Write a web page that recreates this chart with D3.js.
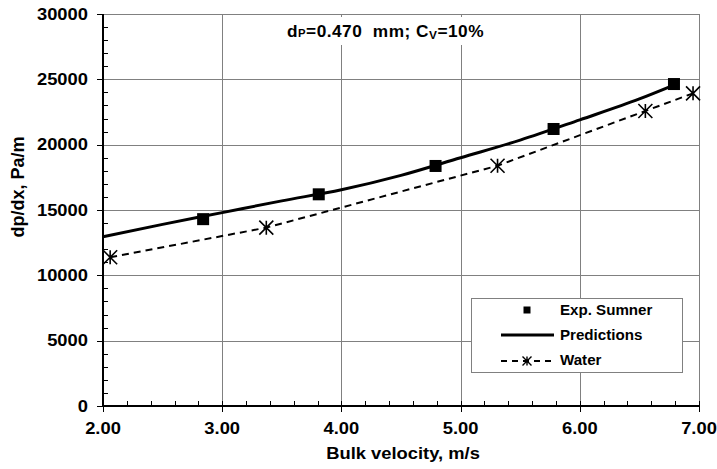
<!DOCTYPE html>
<html>
<head>
<meta charset="utf-8">
<script src="https://cdn.jsdelivr.net/npm/d3@7/dist/d3.min.js"></script>
<style>
  html, body { margin: 0; padding: 0; background: #fff; }
  svg text { font-family: "Liberation Sans", Arial, sans-serif; font-weight: bold; fill: #000; }
</style>
</head>
<body>
<svg id="chart" width="717" height="469"></svg>
<script>
// Pressure gradient vs bulk velocity (d_P = 0.470 mm, C_V = 10 %)
const expVelocity  = [2.84, 3.81, 4.79, 5.78, 6.79];
const expGradient  = [14300, 16200, 18370, 21200, 24640];

const predVelocity = [2.0, 2.5, 3.0, 3.5, 4.0, 4.5, 5.0, 5.5, 6.0, 6.5, 6.8];
const predGradient = [12950, 13900, 14800, 15700, 16550, 17650, 19000, 20350, 21900, 23500, 24600];

const waterVelocity = [2.06, 3.37, 5.31, 6.55, 6.95];
const waterGradient = [11380, 13650, 18390, 22580, 23930];

const xTicks = [2, 3, 4, 5, 6, 7];
const yTicks = [0, 5000, 10000, 15000, 20000, 25000, 30000];
const seriesNames = ["Exp. Sumner", "Predictions", "Water"];

const svg = d3.select("#chart");
const plotL = 103, plotR = 699, plotT = 14, plotB = 406;
const STRETCH = 1.08;

const x = d3.scaleLinear().domain([2, 7]).range([plotL, plotR]);
const y = d3.scaleLinear().domain([0, 30000]).range([plotB, plotT]);

// text helper: slightly wide lettering
function label(parent, px, py, txt, anchor, size, baseline) {
  const g = parent.append("g").attr("transform", `translate(${px},${py}) scale(${STRETCH},1)`);
  const t = g.append("text").attr("text-anchor", anchor).attr("font-size", size);
  if (baseline) t.attr("dominant-baseline", baseline);
  t.text(txt);
  return t;
}

// grid
const grid = svg.append("g").attr("stroke", "#808080").attr("stroke-width", 1).attr("shape-rendering", "crispEdges");
grid.selectAll(".gx").data(xTicks.slice(1)).join("line")
  .attr("x1", d => Math.round(x(d)) + 0.5).attr("x2", d => Math.round(x(d)) + 0.5)
  .attr("y1", plotT).attr("y2", plotB);
grid.selectAll(".gy").data(yTicks.slice(1)).join("line")
  .attr("x1", plotL).attr("x2", plotR)
  .attr("y1", d => Math.round(y(d)) + 0.5).attr("y2", d => Math.round(y(d)) + 0.5);

// title box over the grid
svg.append("rect").attr("x", 276).attr("y", 17).attr("width", 214).attr("height", 28).attr("fill", "#fff");
const tg = svg.append("g").attr("transform", `translate(287,37) scale(${STRETCH},1)`);
const tt = tg.append("text").attr("font-size", 16).attr("letter-spacing", 0.45).attr("xml:space", "preserve");
tt.append("tspan").text("d");
tt.append("tspan").attr("font-size", 10.5).text("P");
tt.append("tspan").text("=0.470  mm; C");
tt.append("tspan").attr("font-size", 11).attr("dy", 2).text("V");
tt.append("tspan").attr("dy", -2).text("=10%");

// axes lines
svg.append("line").attr("x1", plotL).attr("x2", plotL).attr("y1", plotT).attr("y2", plotB + 1)
  .attr("stroke", "#000").attr("stroke-width", 2);
svg.append("line").attr("x1", plotL - 1).attr("x2", plotR).attr("y1", plotB).attr("y2", plotB)
  .attr("stroke", "#000").attr("stroke-width", 2);

// major + minor ticks
const ticks = svg.append("g").attr("stroke", "#000").attr("stroke-width", 1).attr("shape-rendering", "crispEdges");
ticks.selectAll(".tx").data(xTicks).join("line")
  .attr("x1", d => Math.round(x(d)) + 0.5).attr("x2", d => Math.round(x(d)) + 0.5)
  .attr("y1", plotB - 5).attr("y2", plotB + 6);
ticks.selectAll(".mx").data(d3.range(2.2, 7, 0.2).filter(v => Math.abs(v - Math.round(v)) > 0.01)).join("line")
  .attr("x1", d => Math.round(x(d)) + 0.5).attr("x2", d => Math.round(x(d)) + 0.5)
  .attr("y1", plotB - 5).attr("y2", plotB);
ticks.selectAll(".ty").data(yTicks).join("line")
  .attr("x1", plotL - 6).attr("x2", plotL)
  .attr("y1", d => Math.round(y(d)) + 0.5).attr("y2", d => Math.round(y(d)) + 0.5);
ticks.selectAll(".my").data(d3.range(1000, 30000, 1000).filter(v => v % 5000 !== 0)).join("line")
  .attr("x1", plotL).attr("x2", plotL + 5)
  .attr("y1", d => Math.round(y(d)) + 0.5).attr("y2", d => Math.round(y(d)) + 0.5);

// tick labels
const lab = svg.append("g");
xTicks.forEach(d => label(lab, x(d), 434, d.toFixed(2), "middle", 17));
yTicks.forEach(d => label(lab, 88, y(d), String(d), "end", 17, "central"));

// axis titles
label(svg, 403, 459, "Bulk velocity, m/s", "middle", 17);
svg.append("text").attr("transform", `translate(24,187) rotate(-90)`)
  .attr("text-anchor", "middle").attr("font-size", 18).text("dp/dx, Pa/m");

// series
const predLine = d3.line().x(d => x(d[0])).y(d => y(d[1])).curve(d3.curveMonotoneX);
const waterLine = d3.line().x(d => x(d[0])).y(d => y(d[1]));

svg.append("path").datum(d3.zip(waterVelocity, waterGradient)).attr("d", waterLine)
  .attr("fill", "none").attr("stroke", "#000").attr("stroke-width", 2).attr("stroke-dasharray", "7,5");
svg.append("path").datum(d3.zip(predVelocity, predGradient)).attr("d", predLine)
  .attr("fill", "none").attr("stroke", "#000").attr("stroke-width", 3);

function star(sel, s, w) {
  const h = s / 2;
  return sel.attr("d", `M${-h},${-h}L${h},${h}M${-h},${h}L${h},${-h}M0,${-h}L0,${h}`)
    .attr("stroke", "#000").attr("stroke-width", w).attr("fill", "none");
}
svg.append("g").selectAll("path").data(d3.zip(waterVelocity, waterGradient)).join("path")
  .attr("transform", d => `translate(${x(d[0])},${y(d[1])})`).call(star, 14, 1.6);

svg.append("g").selectAll("rect").data(d3.zip(expVelocity, expGradient)).join("rect")
  .attr("x", d => x(d[0]) - 6).attr("y", d => y(d[1]) - 6)
  .attr("width", 12).attr("height", 12).attr("fill", "#000");

// legend
const lg = svg.append("g");
lg.append("rect").attr("x", 471.5).attr("y", 298.5).attr("width", 211).attr("height", 74)
  .attr("fill", "#fff").attr("stroke", "#808080").attr("stroke-width", 1);
lg.append("rect").attr("x", 523.5).attr("y", 306.5).attr("width", 7).attr("height", 7).attr("fill", "#000");
lg.append("line").attr("x1", 501).attr("x2", 554).attr("y1", 335).attr("y2", 335)
  .attr("stroke", "#000").attr("stroke-width", 3);
lg.append("line").attr("x1", 501).attr("x2", 554).attr("y1", 361).attr("y2", 361)
  .attr("stroke", "#000").attr("stroke-width", 2).attr("stroke-dasharray", "6,5");
lg.append("path").attr("transform", "translate(527,361)").call(star, 9, 1.4);
const rows = [315, 339.5, 365];
seriesNames.forEach((n, i) => label(lg, 560, rows[i], n, "start", 14));
</script>
</body>
</html>
